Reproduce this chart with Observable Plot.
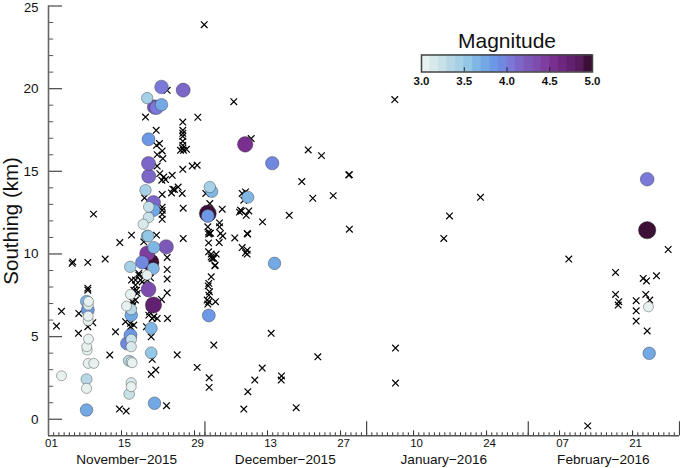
<!DOCTYPE html>
<html>
<head>
<meta charset="utf-8">
<script src="https://cdn.jsdelivr.net/npm/d3@7"></script>
<script src="https://cdn.jsdelivr.net/npm/@observablehq/plot@0.6"></script>
<style>
html,body{margin:0;padding:0;background:#fff}
#chart{position:relative;width:680px;height:468px;font-family:"Liberation Sans",Arial,sans-serif}
#chart svg{position:absolute;left:0;top:0;background:transparent}
</style>
</head>
<body>
<div id="chart"></div>
<script>
// days since 01 Nov 2015
const crossDay = [29.86,18.6,20.65,21.28,20.71,21.8,20.84,21.92,20.84,21.34,22.11,21.73,22.44,23.72,25.75,27.56,28.51,25.75,28.63,22.76,25.75,25.75,25.75,25.75,25.75,25.75,25.89,26.46,25.31,21.8,23.59,23.84,24.16,24.87,25.64,25.83,30.16,30.93,33.31,21.8,21.8,21.8,21.8,18.41,8.63,32.79,32.79,30.55,13.67,15.92,18.27,20.71,25.83,4.66,4.54,7.54,10.87,22.76,22.76,22.76,22.76,21.67,22.82,20.84,19.89,20.19,19.23,19.37,19.69,18.79,19.89,19.69,20.58,22.63,13.61,14.9,24.68,28.51,30.81,30.81,31.7,11.75,12.85,14.77,15.72,16.36,1.53,2.49,5.81,5.75,7.54,8.49,7.54,7.54,15.92,17.32,17.64,16.68,16.87,16.05,16.68,16.24,15.72,19.56,17.97,16.68,17.32,18.93,16.36,17.01,16.05,30.7,32.16,31.39,31.96,32.73,30.7,30.7,30.7,31.07,32.98,33.42,31.2,31.7,31.89,31.2,30.74,30.62,30.87,30.74,30.43,30.74,30.55,32.02,31.2,30.93,37.77,38.1,35.72,38.1,38.2,37.14,38.1,37.14,36.82,36.62,37.01,38.41,37.91,35.53,38.87,49.8,52.35,57.58,57.7,48.57,50.68,54.59,46.16,41.04,37.78,37.45,57.7,66.4,76.89,82.84,75.8,42.7,51.64,40.98,39.56,38.22,37.45,47.5,44.68,44.62,66.54,66.54,99.77,108.73,108.73,109.36,109.24,114.04,114.67,116.59,118.83,114.53,115.3,112.69,112.69,112.69,114.8,103.4];
const crossSouthing = [23.87,18.28,17.48,16.68,16.57,16.23,16.01,15.77,15.32,14.86,14.66,14.46,14.5,14.76,15.12,15.32,15.37,17.98,18.27,19.9,17.48,17.3,17.12,16.82,16.57,16.39,16.27,16.33,16.27,13.6,13.69,13.92,13.9,14.05,13.66,12.77,13.66,13.05,12.71,12.83,12.65,12.4,12.1,13.39,12.41,11.88,11.64,11.64,10.69,11.14,10.73,11.14,10.94,9.52,9.43,9.49,9.69,9.79,9.06,8.48,7.65,7.25,6.1,6.1,6.1,6.2,6.3,6.5,4.99,5.6,3.63,2.72,2.98,0.82,0.62,0.5,3.9,3.14,2.51,1.93,4.49,3.89,5.29,5.9,5.6,5.7,5.64,6.53,6.4,5.2,5.6,5.84,7.93,7.81,8.42,8.82,8.42,8.12,7.81,7.11,7.21,6.91,5.8,8.56,8.31,8.42,8.72,8.42,7.81,7.61,6.85,10.13,9.99,9.73,9.32,10.69,10.67,11.32,11.2,11.26,11.24,11.09,9.99,9.73,9.28,8.62,8.22,8.07,7.71,7.51,7.21,7.11,6.97,7.11,9.82,11.24,10.07,9.99,10.97,11.24,11.2,10.39,10.23,13.66,12.65,12.53,12.59,12.6,12.34,19.21,16.98,16.29,15.95,14.78,14.8,14.38,13.37,13.53,12.34,11.94,13.75,13.25,11.5,19.34,12.3,13.43,10.94,5.2,3.78,3.1,2.37,1.67,0.62,0.7,2.62,2.37,4.31,2.19,9.69,8.88,7.55,7.11,6.91,8.52,8.37,8.68,10.27,7.55,7.21,7.17,6.56,5.94,5.34,-0.4];

const quakeDay = [2.49,7.29,7.29,7.29,7.61,8.69,7.42,7.34,7.67,7.61,7.61,7.54,7.29,7.67,7.61,15.47,15.86,15.86,15.4,15.86,16.05,15.09,15.86,15.72,15.86,15.86,15.86,14.96,15.72,15.67,20.33,19.69,19.69,20.13,19.18,18.93,17.97,19.56,18.93,20.08,18.93,20.19,22.57,19.12,30.74,18.16,19.18,19.23,20.19,20.13,18.6,19.23,19.18,19.18,18.93,20.33,20.71,21.67,21.67,25.83,30.93,31.31,30.55,30.55,37.72,42.9,38.22,43.34,114.8,114.8,115.05,115.19];
const quakeSouthing = [2.63,0.56,1.87,2.42,3.38,3.38,4.19,4.39,4.85,5.96,6.24,6.6,7.13,7.13,6.91,1.53,2.21,1.97,3.54,3.48,3.42,4.59,4.39,5.09,4.83,6.3,6.65,6.85,7.55,9.22,0.97,4.02,5.5,6.91,7.85,10.03,9.49,9.49,8.72,9.12,11.08,10.39,10.43,11.08,6.28,11.8,12.21,12.85,12.65,13.11,13.86,14.7,15.47,16.94,19.43,18.89,18.85,19.03,20.1,19.91,14.05,13.78,12.45,12.3,16.63,15.49,13.43,9.43,14.52,11.44,6.8,3.99];
const quakeMagnitude = [3.0,3.7,3.05,3.3,3.0,3.0,3.0,3.0,3.0,3.0,3.0,3.8,3.6,3.0,3.1,3.2,3.1,3.0,3.3,3.1,3.0,3.9,3.1,3.8,3.2,3.7,3.3,3.0,3.05,3.4,3.7,3.5,3.6,4.7,4.3,4.4,3.9,4.9,3.0,3.6,3.5,3.6,4.2,3.5,3.8,3.1,3.2,3.2,3.7,4.1,3.4,4.1,4.1,3.8,3.4,4.2,4.0,3.7,4.0,4.1,3.4,3.6,4.9,3.8,4.5,3.9,3.6,3.7,4.0,5.0,3.0,3.7];

const magnitudeBreaks = [3.1,3.2,3.3,3.4,3.5,3.6,3.7,3.8,3.9,4.0,4.1,4.2,4.3,4.4,4.5,4.6,4.7,4.8,4.9];
const magnitudeColors = ["#e6f1f0","#d8e9ec","#c8e0e8","#b6d8e6","#a6d0e6","#94c6e6","#80b6e6","#72a8e4","#6c98e6","#7088e0","#7a78d8","#7c66c8","#7c58b8","#7e4cac","#7e3ea0","#782f90","#6e2680","#622070","#561c5c","#3c1036"];

const yMajor = [0,5,10,15,20,25];
const yLabelled = [0,5,10,15,20];
const yTop = [25];
const yMinor = [1,2,3,4,6,7,8,9,11,12,13,14,16,17,18,19,21,22,23,24];
const xLabelDays = [0,14,28,42,56,70,84,98,112];
const xLabels = ["01","15","29","13","27","10","24","07","21"];
const monthEdges = [30,61,92,121];
const monthNames = ["November−2015","December−2015","January−2016","February−2016"];
const monthCentres = [15,45.4,75.8,106.4];
const legendTicks = [3,3.5,4,4.5,5];

const font = '"Liberation Sans",Arial,sans-serif';
const crosses = crossDay.map((d,i)=>({d,s:crossSouthing[i]}));
const quakes = quakeDay.map((d,i)=>({d,s:quakeSouthing[i],m:quakeMagnitude[i]}));
const allDays = d3.range(0,122);
const colorOpts = {type:"threshold",domain:magnitudeBreaks,range:magnitudeColors};

const main = Plot.plot({
  width:680,height:468,marginLeft:48,marginRight:1,marginTop:5.5,marginBottom:32.7,
  style:{fontFamily:font,background:"transparent",color:"#111"},
  x:{domain:[0,121],axis:null},
  y:{domain:[-1,25],axis:null},
  color:colorOpts,
  r:{type:"linear",domain:[3,5],range:[5,8.7]},
  marks:[
    Plot.ruleY(yMinor,{x1:0,x2:1.0,stroke:"#555",strokeWidth:1}),
    Plot.ruleY(yMajor,{x1:0,x2:2.7,stroke:"#555",strokeWidth:1.3}),
    Plot.ruleX(allDays,{y1:-1,y2:-0.82,stroke:"#333",strokeWidth:1}),
    Plot.ruleX(xLabelDays,{y1:-1,y2:-0.7,stroke:"#333",strokeWidth:1}),
    Plot.ruleX(monthEdges,{y1:-1,y2:-0.15,stroke:"#444",strokeWidth:1.2}),
    Plot.ruleX([0],{stroke:"#666",strokeWidth:1.6}),
    Plot.ruleY([-1],{stroke:"#555",strokeWidth:1.6}),
    Plot.axisY({ticks:yLabelled,tickSize:0,tickPadding:10,fontSize:13.5,label:null,tickFormat:d=>String(d)}),
    Plot.axisY({ticks:yTop,tickSize:0,tickPadding:10,fontSize:13,dy:2.2,label:null,tickFormat:d=>String(d)}),
    Plot.axisX({ticks:xLabelDays,tickSize:0,tickPadding:3,fontSize:11.5,label:null,dx:3,
      tickFormat:d=>xLabels[xLabelDays.indexOf(d)]}),
    Plot.text(monthNames,{x:(d,i)=>monthCentres[i],y:-1,dy:24,fontSize:13.6,lineAnchor:"middle",fill:"#111"}),
    Plot.text(["Southing (km)"],{frameAnchor:"left",dx:-31,rotate:-90,fontSize:20.5,lineAnchor:"bottom",textAnchor:"middle",fill:"#111"}),
    Plot.dot(crosses,{x:"d",y:"s",symbol:"times",r:3.1,stroke:"#000",strokeWidth:1.2}),
    Plot.dot(quakes,{x:"d",y:"s",r:"m",fill:"m",stroke:"#333",strokeOpacity:0.4,strokeWidth:1})
  ]
});

const bands = magnitudeColors.map((c,i)=>({
  a:i===0?3:magnitudeBreaks[i-1],
  b:i===magnitudeBreaks.length?5:magnitudeBreaks[i],
  c
}));
const legend = Plot.plot({
  width:680,height:92,marginLeft:421,marginRight:88,marginTop:54.5,marginBottom:20.5,
  style:{fontFamily:font,background:"transparent",color:"#111"},
  x:{domain:[3,5],axis:null},
  y:{domain:[0,1],axis:null},
  marks:[
    Plot.rect(bands,{x1:"a",x2:"b",y1:0,y2:1,fill:"c",stroke:"c",strokeWidth:0.6}),
    Plot.ruleX([3.5,4,4.5],{y1:0,y2:0.25,stroke:"#222",strokeWidth:1}),
    Plot.frame({stroke:"#444",strokeWidth:1.5}),
    Plot.axisX({ticks:legendTicks,tickSize:0,tickPadding:5,fontSize:11.5,fontWeight:"bold",label:null,tickFormat:d3.format(".1f")}),
    Plot.text(["Magnitude"],{frameAnchor:"top",dy:-7,fontSize:21,lineAnchor:"bottom",fill:"#111"})
  ]
});
const host=document.getElementById("chart");
host.append(main,legend);
</script>
</body>
</html>
